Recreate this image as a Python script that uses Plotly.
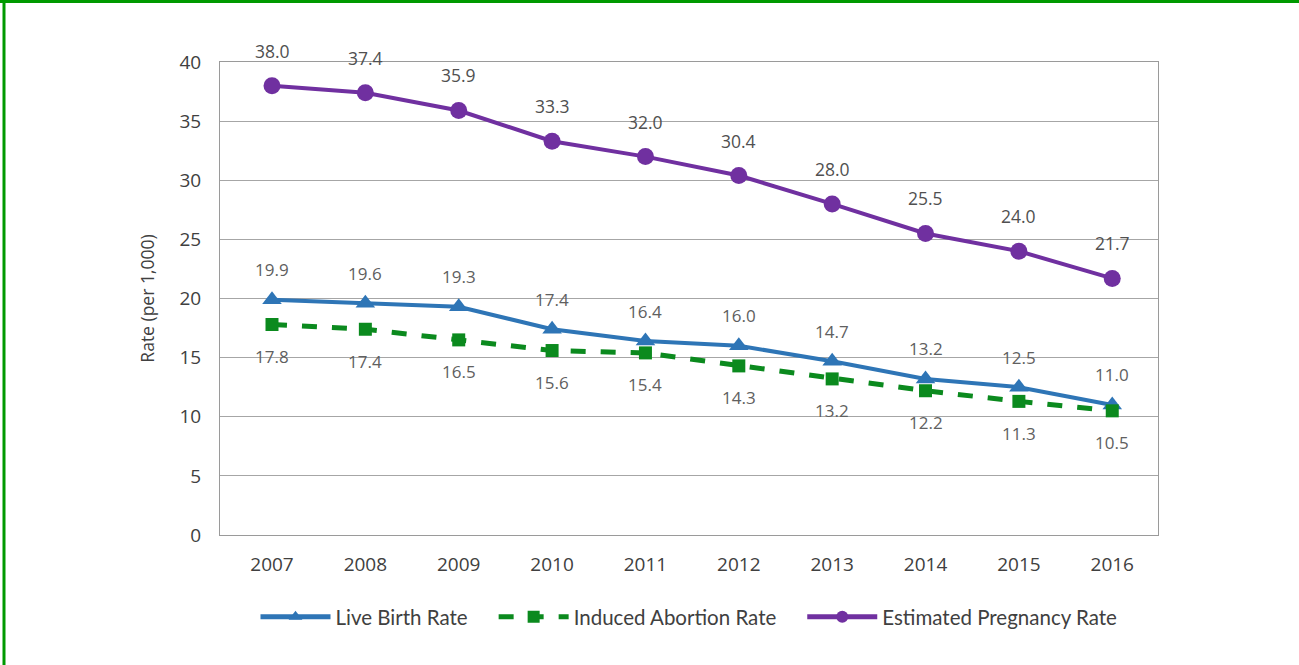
import plotly.graph_objs as go

years = ["2007", "2008", "2009", "2010", "2011", "2012", "2013", "2014", "2015", "2016"]
live_birth = [19.9, 19.6, 19.3, 17.4, 16.4, 16.0, 14.7, 13.2, 12.5, 11.0]
abortion = [17.8, 17.4, 16.5, 15.6, 15.4, 14.3, 13.2, 12.2, 11.3, 10.5]
pregnancy = [38.0, 37.4, 35.9, 33.3, 32.0, 30.4, 28.0, 25.5, 24.0, 21.7]

W, H = 1299, 665
L, R, T, B = 220, 141, 62, 130
pw, ph = W - L - R, H - T - B
NB = "\u00a0" * 4  # extra gap between legend entries


def px_x(p):
    return (p - L) / pw


def px_y(p):
    return 1 - (p - T) / ph


fig = go.Figure()

fig.add_trace(go.Scatter(
    x=years, y=live_birth, mode="lines+markers", name="Live Birth Rate" + NB,
    line=dict(color="#2E75B6", width=4),
    marker=dict(symbol="triangle-up", size=17, color="#2E75B6"),
))
fig.add_trace(go.Scatter(
    x=years, y=abortion, mode="lines+markers", name="Induced Abortion Rate" + NB,
    line=dict(color="#0B8A1E", width=5, dash="dash"),
    marker=dict(symbol="square", size=13, color="#0B8A1E"),
))
fig.add_trace(go.Scatter(
    x=years, y=pregnancy, mode="lines+markers", name="Estimated Pregnancy Rate",
    line=dict(color="#7030A0", width=4),
    marker=dict(symbol="circle", size=17, color="#7030A0"),
))

# data labels (x given as category index so "2007" isn't read as a number)
annotations = []
for i, v in enumerate(pregnancy):
    annotations.append(dict(x=i, y=v, text=f"{v:.1f}", showarrow=False, yshift=35,
                            font=dict(size=17.5, color="#505050")))
for i, v in enumerate(live_birth):
    annotations.append(dict(x=i, y=v, text=f"{v:.1f}", showarrow=False, yshift=30,
                            font=dict(size=17, color="#606060")))
for i, v in enumerate(abortion):
    annotations.append(dict(x=i, y=v, text=f"{v:.1f}", showarrow=False, yshift=-32,
                            font=dict(size=17, color="#606060")))

# green frame (top and left edges of the image)
shapes = [
    dict(type="line", xref="paper", yref="paper", x0=px_x(0), x1=px_x(W), y0=px_y(1.5), y1=px_y(1.5),
         line=dict(color="#009900", width=3)),
    dict(type="line", xref="paper", yref="paper", x0=px_x(4), x1=px_x(4), y0=px_y(0), y1=px_y(H),
         line=dict(color="#009900", width=3)),
]

fig.update_layout(
    width=W, height=H,
    margin=dict(l=L, r=R, t=T, b=B),
    paper_bgcolor="white", plot_bgcolor="white",
    font=dict(family="Open Sans, Segoe UI, sans-serif", color="#404040"),
    showlegend=True,
    legend=dict(orientation="h", x=0.5, xanchor="center", y=px_y(617), yanchor="middle",
                font=dict(family="Lato, Calibri, sans-serif", size=20.5, color="#404040"),
                itemsizing="constant", itemwidth=70),
    xaxis=dict(type="category", range=[-0.557, 9.49], showgrid=False, showline=True,
               linecolor="#9a9a9a", linewidth=1, mirror=True, ticks="",
               ticklabelstandoff=12,
               tickfont=dict(size=19, color="#404040")),
    yaxis=dict(range=[0, 40], dtick=5, showgrid=True, gridcolor="#a6a6a6", gridwidth=1,
               showline=True, linecolor="#9a9a9a", linewidth=1, mirror=True,
               zeroline=False, ticks="", ticklen=0, ticklabelstandoff=14,
               tickfont=dict(size=19, color="#404040"),
               title=dict(text="Rate (per 1,000)", font=dict(size=17.5, color="#404040"), standoff=20)),
    annotations=annotations,
    shapes=shapes,
)

fig.write_html("out.html", config={"displayModeBar": False},
               post_script="document.body.style.margin='0';")
